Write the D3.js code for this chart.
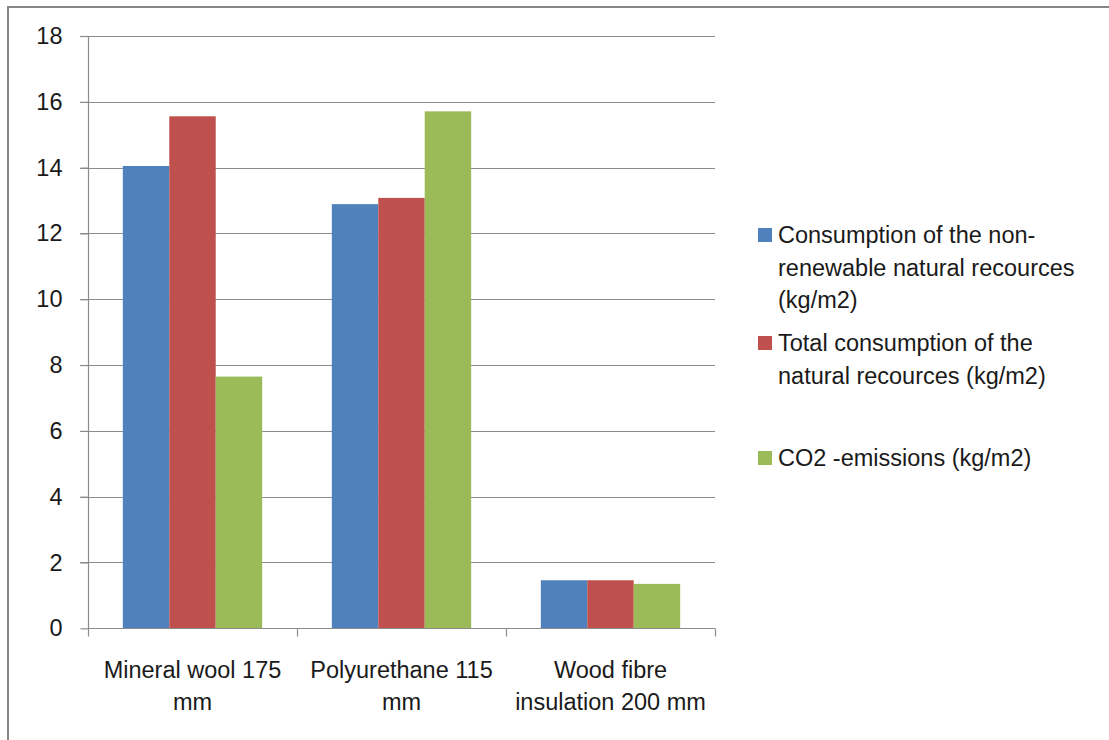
<!DOCTYPE html>
<html>
<head>
<meta charset="utf-8">
<script src="https://cdn.jsdelivr.net/npm/d3@7"></script>
<style>
  html, body { margin: 0; padding: 0; background: #fff; }
  svg { display: block; }
  text { font-family: "Liberation Sans", "DejaVu Sans", sans-serif; fill: #1a1a1a; }
</style>
</head>
<body>
<svg id="chart" width="1109" height="740"></svg>
<script>
// Insulation materials compared
const categories = [
  ["Mineral wool 175", "mm"],
  ["Polyurethane 115", "mm"],
  ["Wood fibre", "insulation 200 mm"]
];
const seriesNames = [
  ["Consumption of the non-", "renewable natural recources", "(kg/m2)"],
  ["Total consumption of the", "natural recources (kg/m2)"],
  ["CO2 -emissions (kg/m2)"]
];
const nonRenewable = [14.05, 12.89, 1.46];
const totalConsumption = [15.56, 13.08, 1.46];
const co2Emissions = [7.65, 15.71, 1.35];
const yTicks = [0, 2, 4, 6, 8, 10, 12, 14, 16, 18];
const colors = ["#4f81bd", "#c0504d", "#9bbb59"];

const seriesValues = [nonRenewable, totalConsumption, co2Emissions];
const fontSize = 23.5;

const svg = d3.select("#chart");

// frame lines along top and left
svg.append("line").attr("x1", 8).attr("x2", 1109).attr("y1", 7).attr("y2", 7)
  .attr("stroke", "#868686").attr("stroke-width", 2);
svg.append("line").attr("x1", 8).attr("x2", 8).attr("y1", 6).attr("y2", 740)
  .attr("stroke", "#868686").attr("stroke-width", 2);

const plot = { left: 88, right: 715, top: 36, bottom: 628.3 };

const y = d3.scaleLinear().domain([0, 18]).range([plot.bottom, plot.top]);
const x0 = d3.scaleBand().domain(d3.range(categories.length))
  .range([plot.left, plot.right]).paddingInner(0).paddingOuter(0);
// gap of 150% of a bar width split around each cluster
const x1 = d3.scaleBand().domain(d3.range(seriesValues.length))
  .range([0, x0.bandwidth()]).paddingOuter(0.75).paddingInner(0);

// horizontal gridlines
svg.append("g").selectAll("line").data(yTicks.filter(t => t > 0)).join("line")
  .attr("x1", plot.left - 8).attr("x2", plot.right)
  .attr("y1", d => Math.round(y(d)) + 0.5).attr("y2", d => Math.round(y(d)) + 0.5)
  .attr("stroke", "#8c8c8c").attr("stroke-width", 1.2);

// y axis
const yAxis = svg.append("g")
  .attr("transform", `translate(${plot.left + 0.5},0)`)
  .call(d3.axisLeft(y).tickValues(yTicks).tickSize(8).tickPadding(18).tickFormat(d3.format("d")));
yAxis.select(".domain").attr("stroke", "#8c8c8c").attr("stroke-width", 1.2)
  .attr("d", `M0,${plot.top}V${plot.bottom}`);
yAxis.selectAll(".tick line").attr("stroke", "#8c8c8c").attr("stroke-width", 1.2);
yAxis.selectAll(".tick text").attr("font-size", fontSize).attr("fill", "#1a1a1a")
  .attr("font-family", "Liberation Sans, sans-serif");

// bars
const groups = svg.append("g").selectAll("g").data(categories).join("g")
  .attr("transform", (d, i) => `translate(${x0(i)},0)`);
groups.selectAll("rect")
  .data((d, i) => seriesValues.map((vals, s) => ({ s, v: vals[i] })))
  .join("rect")
  .attr("x", d => x1(d.s))
  .attr("width", x1.bandwidth())
  .attr("y", d => y(d.v))
  .attr("height", d => y(0) - y(d.v))
  .attr("fill", d => colors[d.s]);

// x axis
const xAxis = svg.append("g")
  .attr("transform", `translate(0,${Math.round(plot.bottom) + 0.5})`);
xAxis.append("line").attr("x1", plot.left).attr("x2", plot.right)
  .attr("stroke", "#8c8c8c").attr("stroke-width", 1.2);
const boundaries = d3.range(categories.length).map(i => x0(i)).concat([plot.right]);
xAxis.selectAll("line.tick").data(boundaries).join("line").attr("class", "tick")
  .attr("x1", d => Math.round(d) + 0.5).attr("x2", d => Math.round(d) + 0.5)
  .attr("y1", 0).attr("y2", 8)
  .attr("stroke", "#8c8c8c").attr("stroke-width", 1.2);

const catLabels = svg.append("g").selectAll("text").data(categories).join("text")
  .attr("text-anchor", "middle")
  .attr("font-size", fontSize)
  .attr("transform", (d, i) => `translate(${x0(i) + x0.bandwidth() / 2},678)`);
catLabels.selectAll("tspan").data(d => d).join("tspan")
  .attr("x", 0).attr("dy", (d, i) => i === 0 ? 0 : 32).text(d => d);

// legend
const legendRows = [235, 343, 458];
const legend = svg.append("g").selectAll("g").data(seriesNames).join("g")
  .attr("transform", (d, i) => `translate(758,${legendRows[i]})`);
legend.append("rect").attr("x", 0).attr("y", -7).attr("width", 14).attr("height", 14)
  .attr("fill", (d, i) => colors[i]);
legend.append("text").attr("font-size", fontSize).attr("x", 20)
  .selectAll("tspan").data(d => d).join("tspan")
  .attr("x", 20).attr("y", (d, i) => i * 32.5 + 8).text(d => d);
</script>
</body>
</html>
